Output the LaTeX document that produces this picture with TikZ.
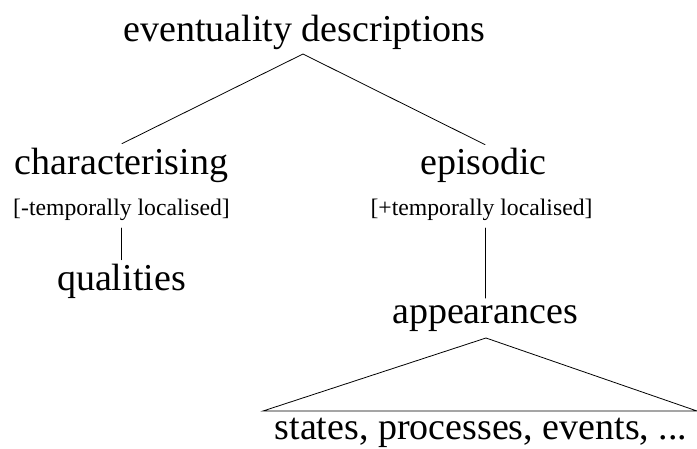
\documentclass[tikz,border=0pt]{standalone}
\usepackage{fontspec}
\setmainfont{Liberation Serif}
\begin{document}
\begin{tikzpicture}[x=1pt,y=-1pt,
  big/.style={font=\fontsize{38}{40}\selectfont, inner sep=0pt, outer sep=0pt, anchor=base},
  tag/.style={font=\fontsize{23.7}{25}\selectfont, inner sep=0pt, outer sep=0pt, anchor=base},
  edge/.style={line width=0.8pt, line cap=round, line join=miter}]
\useasboundingbox (0,0) rectangle (697,449);
\node[big] (ed) at (304.5,42) {eventuality descriptions};
\node[big] (ch) at (121.5,175) {characterising};
\node[big] (ep) at (483.5,175) {episodic};
\node[tag] (lt) at (121.5,216) {[-temporally localised]};
\node[tag] (rt) at (481.5,216) {[+temporally localised]};
\node[big] (ql) at (121.5,291) {qualities};
\node[big] (ap) at (485,324) {appearances};
\node[big] (st) at (481,439) {states, processes, events, ...};
\coordinate (apex) at (303,54);
\coordinate (tapex) at (486,338);
\coordinate (tl) at (263,411);
\coordinate (tr) at (697,411);
\draw[edge] ([xshift=0.5pt,yshift=5pt]ch.north) -- (apex) -- ([xshift=1.5pt,yshift=4pt]ep.north);
\draw[edge] ([yshift=-7pt]lt.south) -- ([yshift=5pt]lt.south |- ql.north);
\draw[edge] ([yshift=-7pt]rt.south -| ap.north) -- ([yshift=8pt]ap.north);
\draw[edge] (tl) -- (tapex) -- (tr) -- cycle;
\end{tikzpicture}
\end{document}
